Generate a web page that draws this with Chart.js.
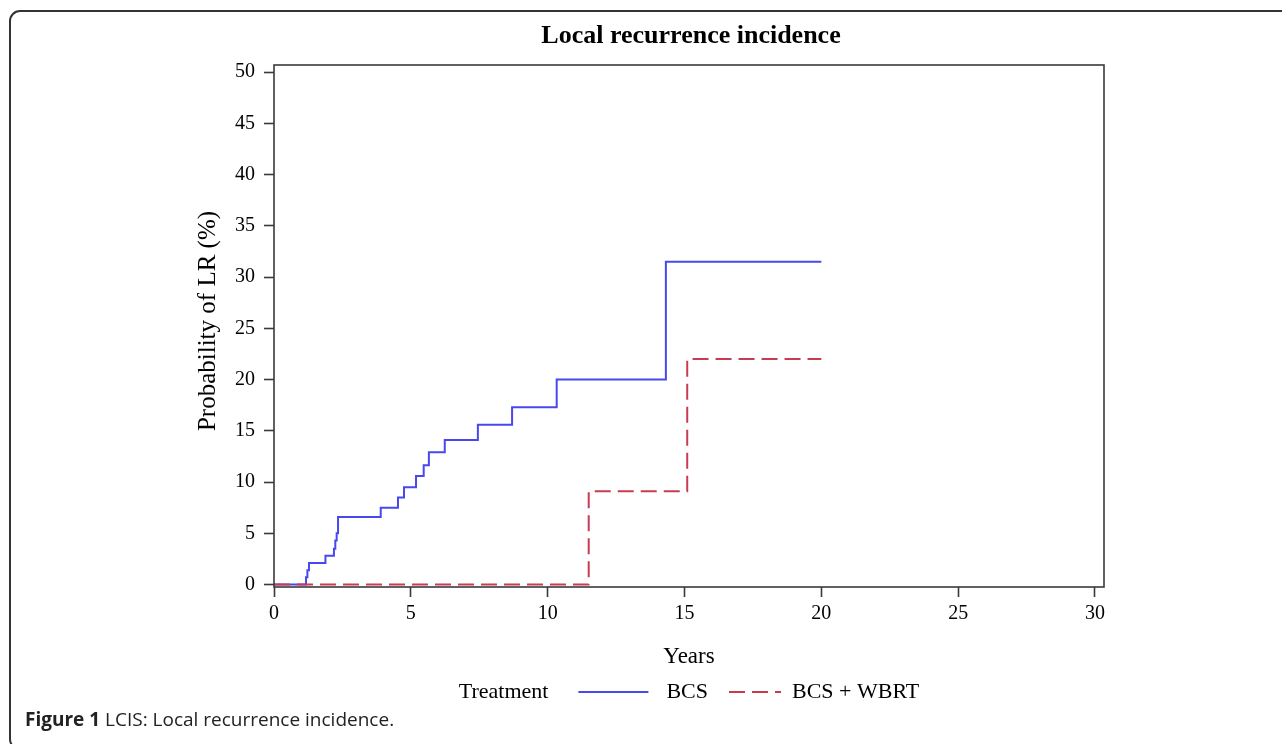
<!DOCTYPE html>
<html>
<head>
<meta charset="utf-8">
<script src="https://cdn.jsdelivr.net/npm/chart.js@4.4.1/dist/chart.umd.min.js"></script>
<style>
  html, body { margin: 0; padding: 0; background: #fff; }
  #wrap { position: relative; width: 1282px; height: 744px; overflow: hidden; }
  #frame {
    position: absolute; left: 9px; top: 10px; width: 1400px; height: 740px;
    border: 2px solid #333; border-radius: 11px; box-sizing: border-box;
  }
  #chart { position: absolute; left: 0; top: 0; }
  #caption {
    position: absolute; left: 25px; top: 706px;
    font-family: "Open Sans", sans-serif; font-size: 19px; color: #222;
  }
  #caption b { font-weight: 700; }
</style>
</head>
<body>
<div id="wrap">
  <div id="frame"></div>
  <canvas id="chart" width="1282" height="744"></canvas>
  <div id="caption"><b>Figure 1</b> LCIS: Local recurrence incidence.</div>
</div>
<script>
// Data
const bcsYears = [0, 1.17, 1.22, 1.28, 1.88, 2.19, 2.24, 2.29, 2.34, 3.90, 4.53, 4.75, 5.19, 5.47, 5.66, 6.24, 7.45, 8.70, 10.33, 14.32, 20.0];
const bcsRisk  = [0, 0.7, 1.4, 2.1, 2.8, 3.5, 4.3, 5.0, 6.6, 7.5, 8.5, 9.5, 10.6, 11.65, 12.9, 14.1, 15.6, 17.3, 20.0, 31.5, 31.5];
const wbrtYears = [0, 11.5, 15.1, 20.0];
const wbrtRisk  = [0, 9.1, 22.0, 22.0];
const xTicks = [0, 5, 10, 15, 20, 25, 30];
const yTicks = [0, 5, 10, 15, 20, 25, 30, 35, 40, 45, 50];

const serif = '"Liberation Serif", "Times New Roman", serif';
const blue = '#4848ee';
const red = '#c83c52';
const axisColor = '#3a3a3a';

function toPoints(xs, ys) {
    return xs.map((x, i) => ({ x: x, y: ys[i] }));
}

// Title, y title, box frame and legend drawn around the chart area
const decorations = {
    id: 'decorations',
    afterDraw(chart) {
        const ctx = chart.ctx;
        const a = chart.chartArea;
        const cx = (a.left + a.right) / 2;
        ctx.save();

        // plot frame
        ctx.strokeStyle = axisColor;
        ctx.lineWidth = 1.6;
        ctx.strokeRect(a.left, a.top, a.right - a.left, a.bottom - a.top);

        // title
        ctx.fillStyle = '#000';
        ctx.font = 'bold 26px ' + serif;
        ctx.textAlign = 'center';
        ctx.textBaseline = 'middle';
        ctx.fillText('Local recurrence incidence', cx + 2, 36);

        // y axis title
        ctx.save();
        ctx.translate(a.left - 66, (a.top + a.bottom) / 2 - 5);
        ctx.rotate(-Math.PI / 2);
        ctx.font = '25px ' + serif;
        ctx.fillText('Probability of LR (%)', 0, 0);
        ctx.restore();

        // legend
        ctx.font = '22px ' + serif;
        ctx.textAlign = 'left';
        const y = 692;
        const parts = [
            { text: 'Treatment' }, { gap: 30 }, { line: 70, color: blue }, { gap: 18 },
            { text: 'BCS' }, { gap: 21 }, { line: 52, color: red, dash: [16, 7] }, { gap: 11 },
            { text: 'BCS + WBRT' }
        ];
        let total = 0;
        parts.forEach(p => {
            p.w = p.text ? ctx.measureText(p.text).width : (p.line || p.gap);
            total += p.w;
        });
        let x = cx - total / 2;
        parts.forEach(p => {
            if (p.text) {
                ctx.fillStyle = '#000';
                ctx.fillText(p.text, x, y);
            } else if (p.line) {
                ctx.strokeStyle = p.color;
                ctx.lineWidth = 2;
                ctx.setLineDash(p.dash || []);
                ctx.beginPath();
                ctx.moveTo(x, y);
                ctx.lineTo(x + p.line, y);
                ctx.stroke();
                ctx.setLineDash([]);
            }
            x += p.w;
        });
        ctx.restore();
    }
};

new Chart(document.getElementById('chart'), {
    type: 'line',
    data: {
        datasets: [
            {
                label: 'BCS',
                data: toPoints(bcsYears, bcsRisk),
                borderColor: blue,
                borderWidth: 2,
                stepped: 'before',
                pointRadius: 0,
                fill: false,
                order: 1
            },
            {
                label: 'BCS + WBRT',
                data: toPoints(wbrtYears, wbrtRisk),
                borderColor: red,
                borderWidth: 2,
                borderDash: [16, 7],
                stepped: 'before',
                pointRadius: 0,
                fill: false,
                order: 0
            }
        ]
    },
    options: {
        responsive: false,
        animation: false,
        devicePixelRatio: 1,
        layout: { padding: { top: 65, right: 178, bottom: 0, left: 0 } },
        plugins: {
            legend: { display: false },
            title: { display: false },
            tooltip: { enabled: false }
        },
        scales: {
            x: {
                type: 'linear',
                min: 0,
                max: 30.33,
                afterBuildTicks: scale => { scale.ticks = xTicks.map(v => ({ value: v })); },
                afterFit: scale => { scale.height = 157; },
                border: { display: false },
                grid: { drawOnChartArea: false, drawTicks: true, tickLength: 10, tickColor: axisColor, tickWidth: 1.6 },
                ticks: { color: '#000', font: { family: serif, size: 20 }, padding: 5, maxRotation: 0 },
                title: { display: true, text: 'Years', color: '#000', font: { family: serif, size: 23 }, padding: { top: 0, bottom: 73 } }
            },
            y: {
                type: 'linear',
                min: -0.24,
                max: 50.7,
                afterBuildTicks: scale => { scale.ticks = yTicks.map(v => ({ value: v })); },
                afterFit: scale => { scale.width = 274; },
                border: { display: false },
                grid: { drawOnChartArea: false, drawTicks: true, tickLength: 10, tickColor: axisColor, tickWidth: 1.6 },
                ticks: { color: '#000', font: { family: serif, size: 20 }, padding: 9 }
            }
        }
    },
    plugins: [decorations]
});
</script>
</body>
</html>
